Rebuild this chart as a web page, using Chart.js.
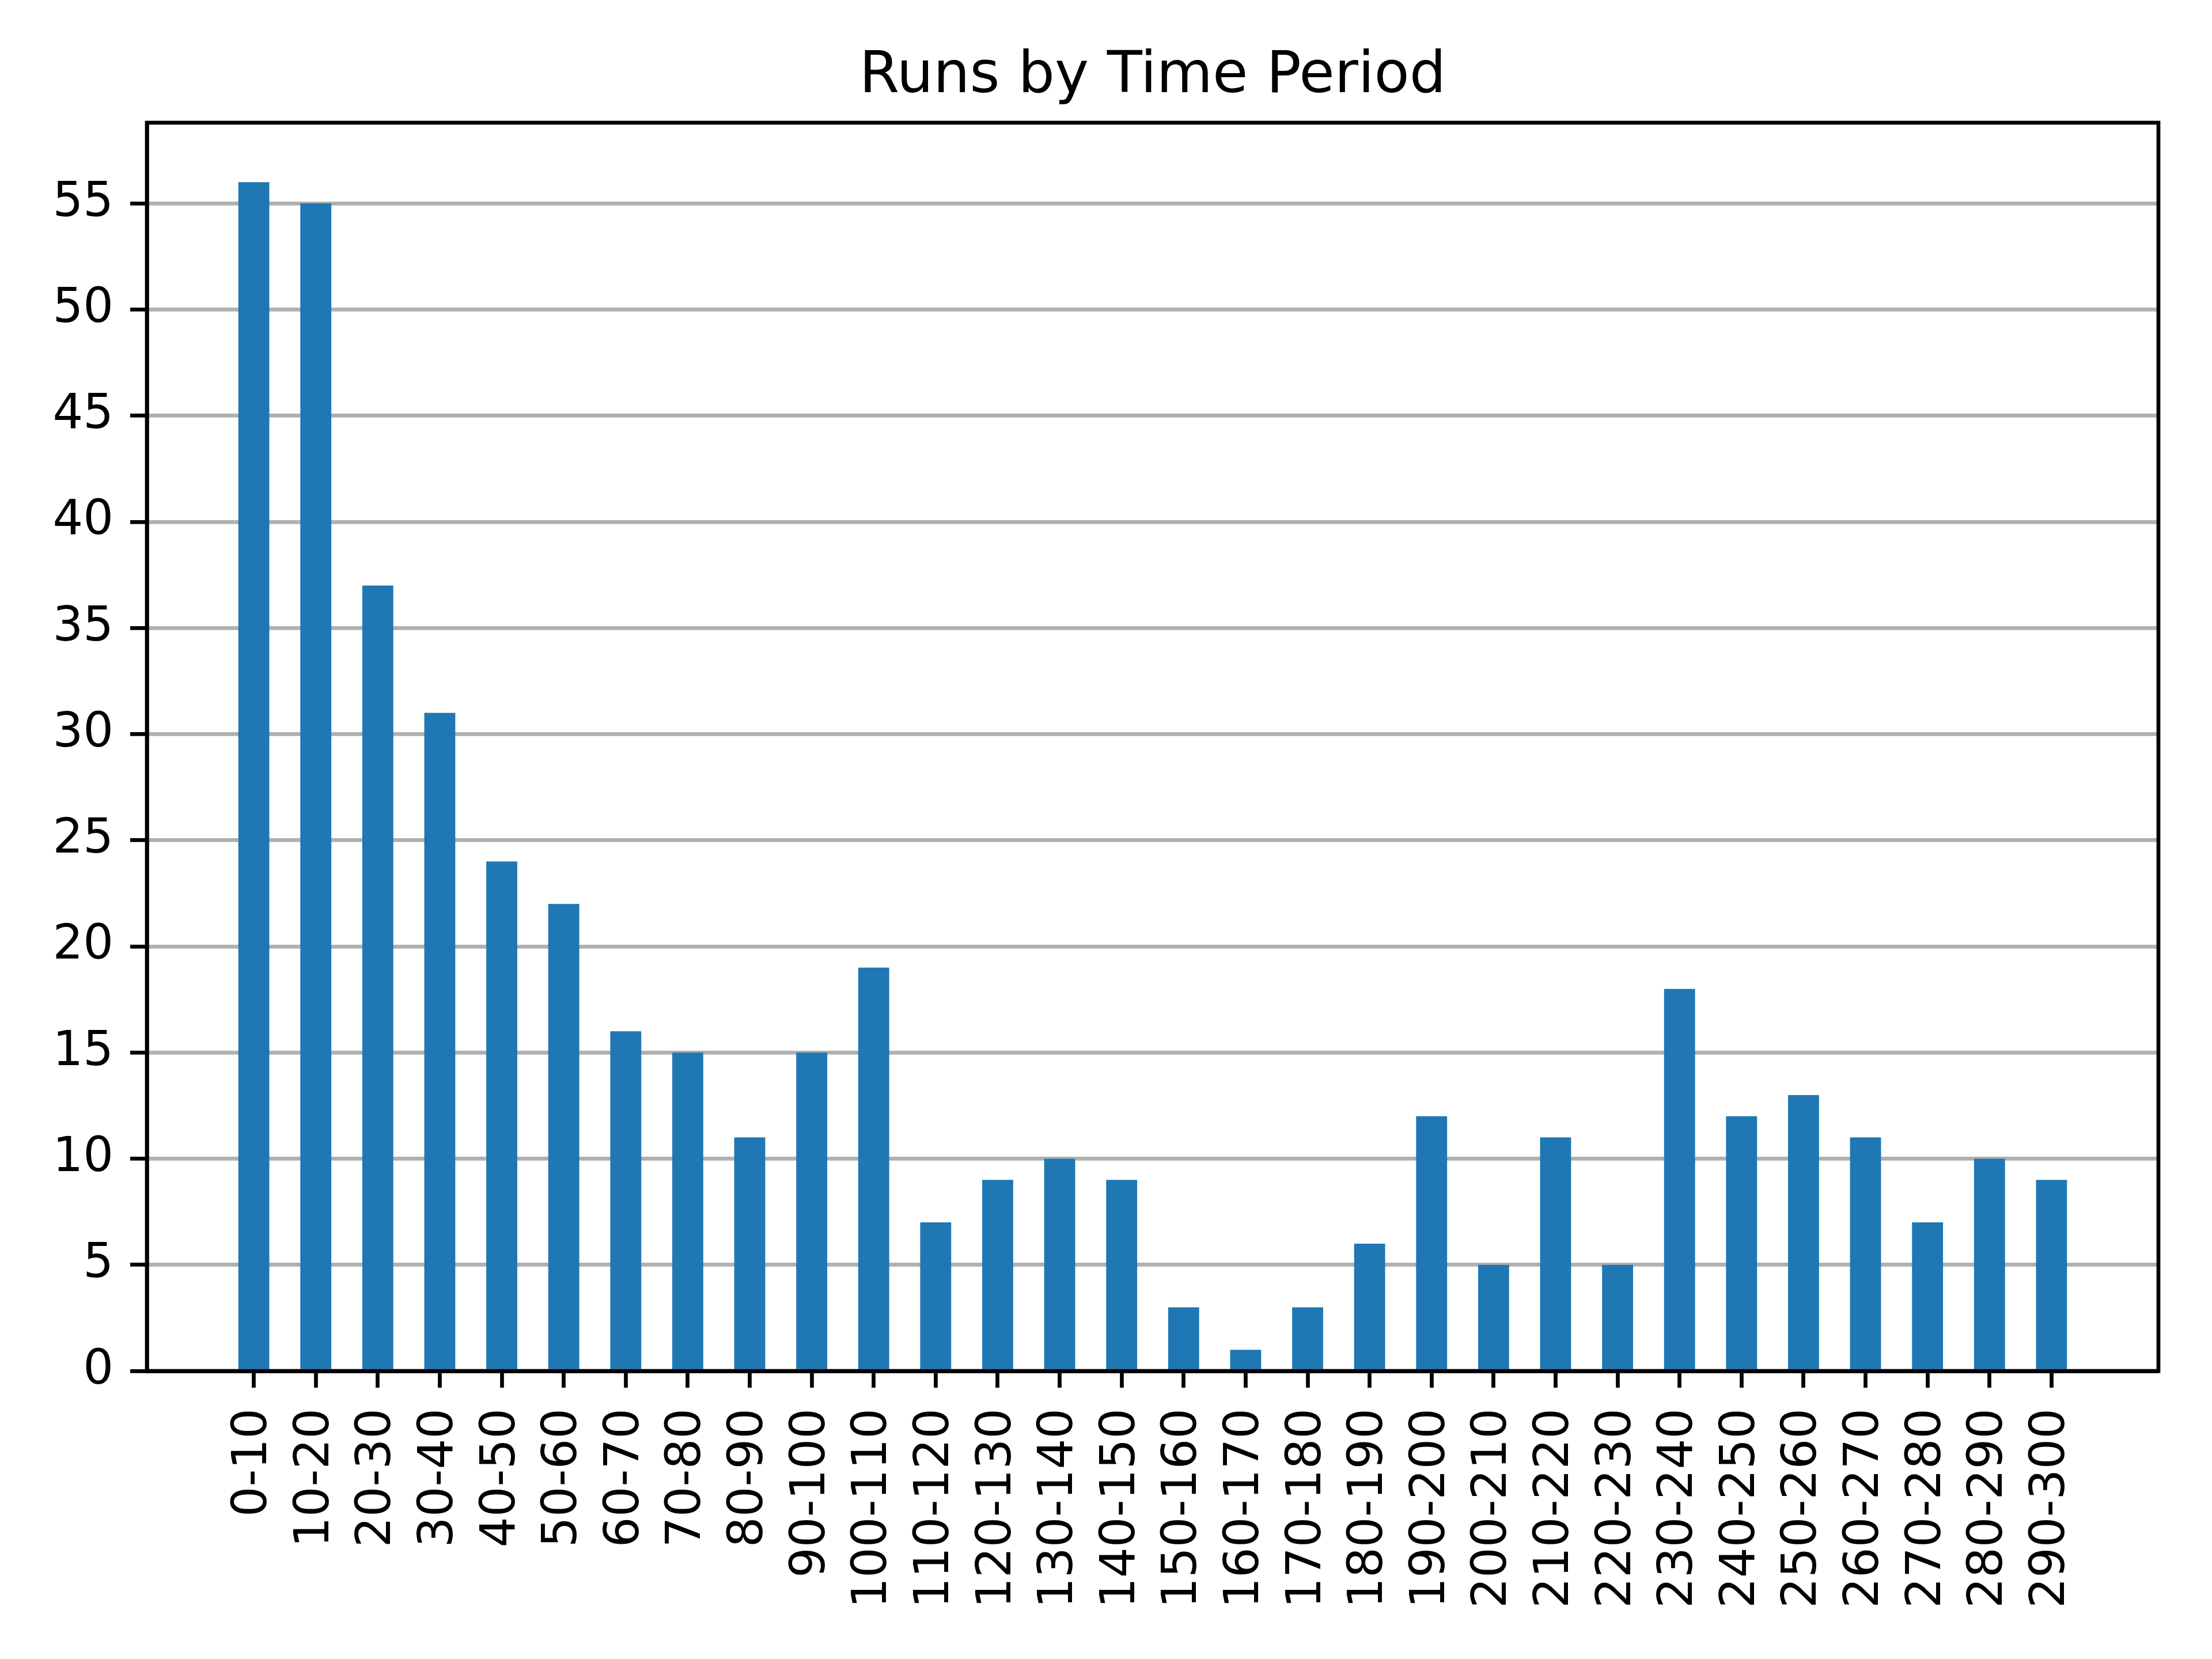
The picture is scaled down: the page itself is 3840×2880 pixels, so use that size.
<!DOCTYPE html>
<html>
<head>
<meta charset="utf-8">
<script src="https://cdn.jsdelivr.net/npm/chart.js@4"></script>
<style>
  html, body { margin: 0; padding: 0; background: #fff; }
  canvas { display: block; }
</style>
</head>
<body>
<canvas id="chart" width="3840" height="2880"></canvas>
<script>
const categories = [
  "0-10", "10-20", "20-30", "30-40", "40-50", "50-60", "60-70", "70-80", "80-90", "90-100",
  "100-110", "110-120", "120-130", "130-140", "140-150", "150-160", "160-170", "170-180", "180-190", "190-200",
  "200-210", "210-220", "220-230", "230-240", "240-250", "250-260", "260-270", "270-280", "280-290", "290-300"
];
const runs = [
  56, 55, 37, 31, 24, 22, 16, 15, 11, 15,
  19, 7, 9, 10, 9, 3, 1, 3, 6, 12,
  5, 11, 5, 18, 12, 13, 11, 7, 10, 9
];
const yTicks = [0, 5, 10, 15, 20, 25, 30, 35, 40, 45, 50, 55];
const title = "Runs by Time Period";

// matplotlib-like limits: 5% margins
const xMin = -0.25 - 0.05 * (categories.length - 0.5);
const xMax = categories.length - 0.75 + 0.05 * (categories.length - 0.5);
const yMax = Math.max(...runs) * 1.05;

const FONT = "'DejaVu Sans', sans-serif";
const LW = 6.7;

// box around the axes (top and right spines)
const frame = {
  id: "frame",
  afterDraw(chart) {
    const { ctx, chartArea: a } = chart;
    ctx.save();
    ctx.strokeStyle = "#000";
    ctx.lineWidth = LW;
    ctx.strokeRect(a.left, a.top, a.right - a.left, a.bottom - a.top);
    ctx.restore();
  }
};

const ctx = document.getElementById("chart").getContext("2d");
new Chart(ctx, {
  type: "bar",
  data: {
    datasets: [{
      data: runs.map((v, i) => ({ x: i, y: v })),
      backgroundColor: "#1f77b4",
      borderWidth: 0,
      categoryPercentage: 1,
      barPercentage: 0.5
    }]
  },
  options: {
    responsive: false,
    animation: false,
    devicePixelRatio: 1,
    layout: { padding: { left: 0, right: 93, top: 0, bottom: 0 } },
    plugins: {
      legend: { display: false },
      tooltip: { enabled: false },
      title: {
        display: true,
        text: title,
        fullSize: false,
        color: "#000",
        font: { family: FONT, size: 100, weight: "normal", lineHeight: 1.2 },
        padding: { top: 74, bottom: 19 }
      }
    },
    scales: {
      x: {
        type: "linear",
        min: xMin,
        max: xMax,
        offset: false,
        z: 1,
        afterBuildTicks: (s) => { s.ticks = categories.map((c, i) => ({ value: i })); },
        afterFit: (s) => { s.height = 500; },
        grid: {
          offset: false,
          drawOnChartArea: false,
          drawTicks: true,
          tickLength: 29,
          tickWidth: LW,
          tickColor: "#000"
        },
        border: { display: true, color: "#000", width: LW },
        ticks: {
          autoSkip: false,
          minRotation: 90,
          maxRotation: 90,
          padding: 36,
          color: "#000",
          font: { family: FONT, size: 83 },
          callback: (v) => categories[v]
        }
      },
      y: {
        min: 0,
        max: yMax,
        z: 1,
        afterBuildTicks: (s) => { s.ticks = yTicks.map(v => ({ value: v })); },
        afterFit: (s) => { s.width = 255; },
        grid: {
          color: "#b0b0b0",
          lineWidth: LW,
          drawTicks: true,
          tickLength: 29,
          tickWidth: LW,
          tickColor: "#000"
        },
        border: { display: true, color: "#000", width: LW },
        ticks: {
          padding: 29,
          color: "#000",
          font: { family: FONT, size: 83 }
        }
      }
    }
  },
  plugins: [frame]
});
</script>
</body>
</html>
